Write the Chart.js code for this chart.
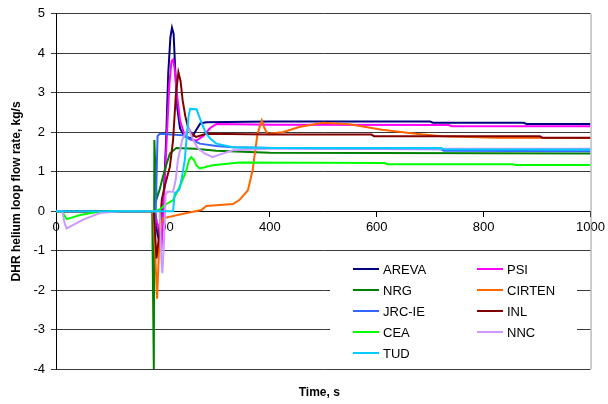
<!DOCTYPE html>
<html>
<head>
<meta charset="utf-8">
<script src="https://cdn.jsdelivr.net/npm/chart.js@4/dist/chart.umd.min.js"></script>
<style>
    html, body { margin: 0; padding: 0; background: #fff; }
    #wrap { width: 608px; height: 404px; }
</style>
</head>
<body>
<div id="wrap"><canvas id="flow-chart" width="608" height="404"></canvas></div>
<script>
// Series data: [time s, flow kg/s]
const seriesNames = ['AREVA', 'PSI', 'NRG', 'CIRTEN', 'JRC-IE', 'INL', 'CEA', 'NNC', 'TUD'];
const seriesColors = ['#000080', '#FF00FF', '#008000', '#FF6600', '#3366FF', '#800000', '#00FF00', '#CC99FF', '#00CCFF'];

const arevaData = [[0,0],[185,0],[190,-0.6],[196,-0.9],[201,0.2],[206,1.8],[210,3.5],[214,4.4],[217,4.65],[220,4.5],[223,3.6],[227,2.6],[232,2.1],[240,1.9],[253,1.84],[262,2.05],[270,2.22],[281,2.25],[320,2.26],[400,2.27],[560,2.27],[700,2.27],[705,2.24],[875,2.24],[880,2.21],[1000,2.21]];
const psiData = [[0,0],[185,0],[192,-0.5],[197,-1.0],[202,0.3],[207,1.8],[212,3.2],[216,3.8],[219,3.84],[222,3.6],[226,3.0],[232,2.3],[240,1.95],[250,1.82],[263,1.79],[275,1.9],[288,2.1],[300,2.21],[400,2.19],[735,2.18],[740,2.15],[1000,2.15]];
const nrgData = [[0,0],[180,0],[183,-4],[184,1.8],[188,0.3],[194,0.55],[200,0.87],[207,1.2],[213,1.46],[225,1.6],[260,1.58],[300,1.53],[400,1.48],[1000,1.46]];
const cirtenData = [[0,0],[182,0],[186,-1.2],[189,-2.22],[193,-0.9],[197,-0.3],[200,-0.18],[240,-0.06],[272,0.03],[281,0.13],[331,0.18],[343,0.28],[359,0.53],[368,1.04],[371,1.37],[377,1.96],[385,2.3],[390,2.1],[396,1.96],[424,2.0],[455,2.13],[499,2.24],[549,2.2],[610,2.06],[673,1.96],[723,1.9],[822,1.86],[1000,1.85]];
const jrcData = [[0,0],[183,0],[186,-0.3],[188,0.8],[190,1.9],[194,1.96],[237,1.92],[269,1.71],[300,1.65],[331,1.62],[493,1.58],[720,1.57],[725,1.53],[1000,1.52]];
const inlData = [[0,0],[183,0],[188,-1.2],[193,-0.6],[198,0.3],[203,0.61],[213,1.12],[219,1.79],[224,2.9],[229,3.52],[233,3.3],[237,2.8],[242,2.4],[247,2.12],[254,1.95],[262,1.88],[281,1.96],[400,1.94],[590,1.94],[595,1.9],[905,1.9],[910,1.86],[1000,1.86]];
const ceaData = [[0,0],[12,0],[16,-0.12],[20,-0.2],[28,-0.17],[45,-0.1],[76,-0.02],[100,0],[185,0],[195,0.05],[203,0.15],[219,0.28],[228,0.53],[234,0.7],[244,1.04],[249,1.3],[253,1.37],[258,1.3],[263,1.15],[269,1.08],[280,1.12],[293,1.16],[343,1.23],[615,1.22],[620,1.19],[855,1.19],[860,1.17],[1000,1.17]];
const nncData = [[0,0],[12,0],[16,-0.3],[20,-0.44],[28,-0.38],[50,-0.22],[82,-0.05],[120,0],[194,0],[197,-1.2],[199,-1.57],[202,-0.8],[205,0.4],[208,0.49],[219,0.49],[224,0.8],[228,1.29],[236,1.8],[243,2.0],[248,2.1],[255,1.85],[265,1.6],[278,1.46],[293,1.37],[310,1.45],[331,1.54],[400,1.58],[1000,1.58]];
const tudData = [[0,0],[219,0],[222,0.45],[231,0.55],[236,0.9],[241,1.3],[244,1.8],[248,2.4],[251,2.59],[263,2.58],[272,2.25],[281,1.96],[290,1.82],[300,1.71],[331,1.62],[400,1.6],[720,1.6],[725,1.57],[1000,1.56]];

const seriesData = [arevaData, psiData, nrgData, cirtenData, jrcData, inlData, ceaData, nncData, tudData];

const xTicks = [0, 200, 400, 600, 800, 1000];
const yTicks = [-4, -3, -2, -1, 0, 1, 2, 3, 4, 5];

const FONT = 'Arial, "Liberation Sans", sans-serif';

// White page, right frame line, legend box and x title
const decorPlugin = {
    id: 'decor',
    beforeDraw(chart) {
        const ctx = chart.ctx;
        ctx.save();
        ctx.fillStyle = '#fff';
        ctx.fillRect(0, 0, chart.width, chart.height);
        ctx.restore();
    },
    afterDraw(chart) {
        const ctx = chart.ctx;
        const area = chart.chartArea;
        ctx.save();

        // right border of plot
        ctx.strokeStyle = '#9a9a9a';
        ctx.lineWidth = 1;
        ctx.beginPath();
        ctx.moveTo(area.right + 0.5, area.top);
        ctx.lineTo(area.right + 0.5, area.bottom);
        ctx.stroke();

        // legend box
        ctx.fillStyle = '#fff';
        ctx.fillRect(330, 256, 247, 112);
        ctx.font = '13px ' + FONT;
        ctx.textBaseline = 'middle';
        ctx.textAlign = 'left';
        chart.data.datasets.forEach((ds, i) => {
            const col = i % 2;
            const row = Math.floor(i / 2);
            const lx = col === 0 ? 353 : 477;
            const ly = 269 + row * 21;
            ctx.strokeStyle = ds.borderColor;
            ctx.lineWidth = 2;
            ctx.beginPath();
            ctx.moveTo(lx, ly);
            ctx.lineTo(lx + 26, ly);
            ctx.stroke();
            ctx.fillStyle = '#000';
            ctx.fillText(ds.label, lx + 30, ly + 1);
        });

        // x axis title
        ctx.font = 'bold 12px ' + FONT;
        ctx.textAlign = 'center';
        ctx.fillStyle = '#000';
        ctx.fillText('Time, s', (area.left + area.right) / 2 - 4, 393);
        ctx.restore();
    }
};

const datasets = seriesNames.map((name, i) => ({
    label: name,
    data: seriesData[i].map(p => ({ x: p[0], y: p[1] })),
    borderColor: seriesColors[i],
    backgroundColor: seriesColors[i],
    borderWidth: 2,
    pointRadius: 0,
    tension: 0,
    fill: false,
    order: seriesNames.length - i
}));

new Chart(document.getElementById('flow-chart'), {
    type: 'line',
    data: { datasets },
    options: {
        responsive: false,
        animation: false,
        devicePixelRatio: 1,
        layout: { padding: { top: 13, right: 16, bottom: 35, left: 0 } },
        plugins: {
            legend: { display: false },
            tooltip: { enabled: false }
        },
        scales: {
            x: {
                type: 'linear',
                min: 0,
                max: 1000,
                position: { y: 0 },
                afterBuildTicks: scale => { scale.ticks = xTicks.map(v => ({ value: v })); },
                ticks: {
                    color: '#000',
                    font: { size: 13, family: FONT },
                    padding: 3,
                    maxRotation: 0,
                    callback: value => String(value)
                },
                grid: { drawOnChartArea: false, drawTicks: true, tickLength: 5, color: '#000' },
                border: { color: '#000', width: 1 }
            },
            y: {
                min: -4,
                max: 5,
                afterBuildTicks: scale => { scale.ticks = yTicks.map(v => ({ value: v })); },
                afterFit: scale => { scale.width = 56; },
                ticks: { color: '#000', font: { size: 13, family: FONT }, padding: 6 },
                grid: { color: '#3a3a3a', tickLength: 5 },
                border: { color: '#000', width: 1 },
                title: {
                    display: true,
                    text: 'DHR helium loop flow rate, kg/s',
                    color: '#000',
                    font: { size: 12, weight: 'bold', family: FONT },
                    padding: { top: 9, bottom: 0 }
                }
            }
        }
    },
    plugins: [decorPlugin]
});
</script>
</body>
</html>
